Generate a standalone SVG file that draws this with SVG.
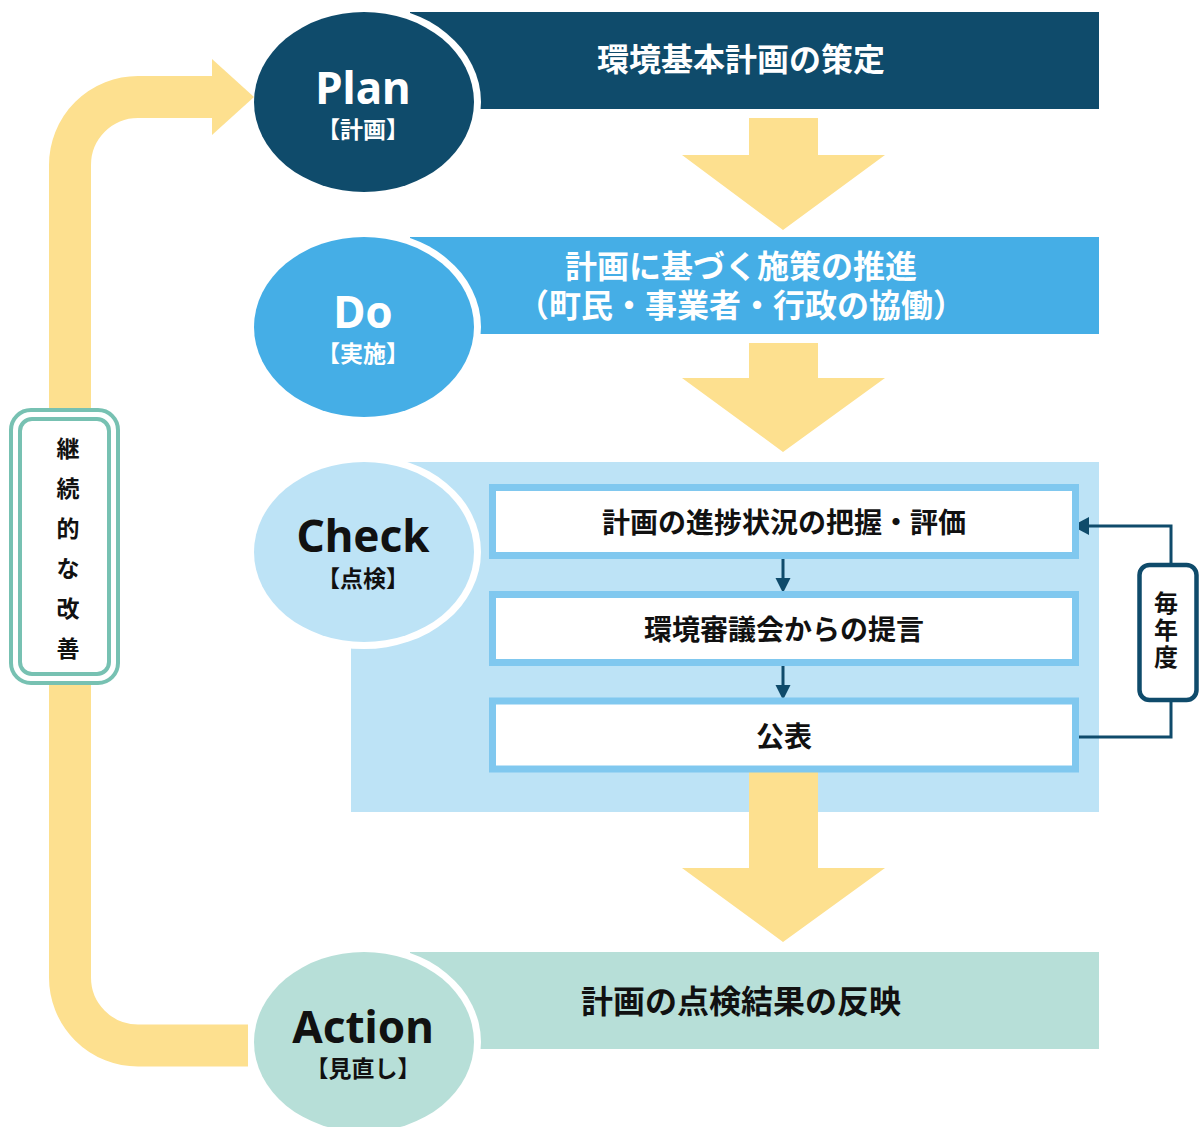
<svg xmlns="http://www.w3.org/2000/svg" width="1199" height="1127" viewBox="0 0 1199 1127">
<style>
.jp{font-family:"Noto Sans CJK JP","Noto Sans",sans-serif;font-weight:bold;text-anchor:middle}
.en{font-family:"Noto Sans","Noto Sans CJK JP",sans-serif;font-weight:bold;text-anchor:middle;font-size:44px}
.sub{font-size:23px}
.main{font-size:32px}
.bt{font-size:28px}
.box{fill:#fff;stroke:#80c8ef;stroke-width:7}
.yel{fill:#fde08f}
.nav{stroke:#0f4b6b;stroke-width:3;fill:none}
.ring{fill:#fff}
</style>
<rect width="1199" height="1127" fill="#fff"/>

<g id="plan">
<rect x="410" y="12" width="689" height="97" fill="#0f4b6b"/>
<ellipse class="ring" cx="364" cy="102" rx="117" ry="97"/>
<ellipse cx="364" cy="102" rx="110" ry="90" fill="#0f4b6b"/>
<text class="en" x="363" y="104" fill="#fff">Plan</text>
<text class="jp sub" x="363" y="138" fill="#fff">【計画】</text>
<text class="jp main" x="741" y="71" fill="#fff">環境基本計画の策定</text>
</g>

<g id="do">
<rect x="410" y="237" width="689" height="97" fill="#45aee6"/>
<ellipse class="ring" cx="364" cy="327" rx="117" ry="97"/>
<ellipse cx="364" cy="327" rx="110" ry="90" fill="#45aee6"/>
<text class="en" x="363" y="328" fill="#fff">Do</text>
<text class="jp sub" x="363" y="362" fill="#fff">【実施】</text>
<text class="jp main" x="741" y="278" fill="#fff">計画に基づく施策の推進</text>
<text class="jp main" x="741" y="317" fill="#fff">（町民・事業者・行政の協働）</text>
</g>

<g id="check">
<rect x="351" y="462" width="748" height="350" fill="#bde3f6"/>
<ellipse class="ring" cx="364" cy="552" rx="117" ry="97"/>
<ellipse cx="364" cy="552" rx="110" ry="90" fill="#bde3f6"/>
<text class="en" x="363" y="552" fill="#111">Check</text>
<text class="jp sub" x="363" y="587" fill="#111">【点検】</text>
</g>

<g id="action">
<rect x="410" y="952" width="689" height="97" fill="#b7dfd8"/>
<ellipse class="ring" cx="364" cy="1042" rx="117" ry="97"/>
<ellipse cx="364" cy="1042" rx="110" ry="90" fill="#b7dfd8"/>
<text class="en" x="363" y="1043" fill="#111">Action</text>
<text class="jp sub" x="363" y="1077" fill="#111">【見直し】</text>
<text class="jp main" x="741" y="1013" fill="#111">計画の点検結果の反映</text>
</g>

<g id="connectors">
<polygon class="yel" points="749,118 818,118 818,155 885,155 783,230 682,155 749,155"/>
<polygon class="yel" points="749,343 818,343 818,378 885,378 783,452 682,378 749,378"/>
<polygon class="yel" points="749,760 818,760 818,868 885,868 783,942 682,868 749,868"/>
<path d="M248 1045.5 H138 A68 68 0 0 1 70 977.5 V165 A68 68 0 0 1 138 97 H213" fill="none" stroke="#fde08f" stroke-width="42"/>
<polygon class="yel" points="212,59 254,97 212,135"/>
<line class="nav" x1="783" y1="559" x2="783" y2="579"/>
<polygon points="775.5,578 790.5,578 783,593" fill="#0f4b6b"/>
<line class="nav" x1="783" y1="666" x2="783" y2="686"/>
<polygon points="775.5,685 790.5,685 783,700" fill="#0f4b6b"/>
<path class="nav" d="M1077 737 H1171 V526 H1088"/>
<polygon points="1089,517 1089,535 1072,526" fill="#0f4b6b"/>
</g>

<g id="box-progress">
<rect class="box" x="492.5" y="487.5" width="583" height="68"/>
<text class="jp bt" x="784" y="533" fill="#111">計画の進捗状況の把握・評価</text>
</g>
<g id="box-council">
<rect class="box" x="492.5" y="594.5" width="583" height="68"/>
<text class="jp bt" x="784" y="640" fill="#111">環境審議会からの提言</text>
</g>
<g id="box-publish">
<rect class="box" x="492.5" y="701" width="583" height="68"/>
<text class="jp bt" x="784" y="747" fill="#111">公表</text>
</g>

<g id="yearly">
<rect x="1139.5" y="565" width="57" height="135" rx="10" fill="#fff" stroke="#0f4b6b" stroke-width="4.5"/>
<text class="jp" x="1166" y="612" font-size="24" fill="#111">毎</text>
<text class="jp" x="1166" y="639" font-size="24" fill="#111">年</text>
<text class="jp" x="1166" y="666" font-size="24" fill="#111">度</text>
</g>

<g id="continuous">
<rect x="11" y="410" width="107" height="273" rx="20" fill="#fff" stroke="#77c1b2" stroke-width="4"/>
<rect x="20" y="419" width="89" height="255" rx="12" fill="#fff" stroke="#77c1b2" stroke-width="4"/>
<text class="jp" x="68" y="457" font-size="23" fill="#111">継</text>
<text class="jp" x="68" y="497" font-size="23" fill="#111">続</text>
<text class="jp" x="68" y="537" font-size="23" fill="#111">的</text>
<text class="jp" x="68" y="577" font-size="23" fill="#111">な</text>
<text class="jp" x="68" y="617" font-size="23" fill="#111">改</text>
<text class="jp" x="68" y="657" font-size="23" fill="#111">善</text>
</g>
</svg>
